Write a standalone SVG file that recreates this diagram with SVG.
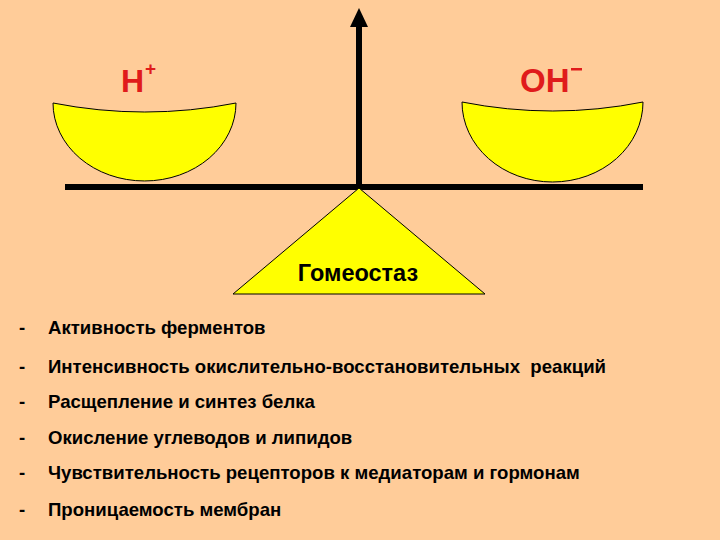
<svg xmlns="http://www.w3.org/2000/svg" width="720" height="540" viewBox="0 0 720 540">
<style>
.bowl{fill:#FFFF00;stroke:#000;stroke-width:1}
.ion{font-family:"Liberation Sans",Arial,sans-serif;font-weight:bold;fill:#E01B1B}
.lbl{font-family:"Liberation Sans",Arial,sans-serif;font-weight:bold;fill:#000}
.item{font-family:"Liberation Sans",Arial,sans-serif;font-weight:bold;font-size:18.6px;fill:#000}
</style>
<rect x="0" y="0" width="720" height="540" fill="#FFCC99"/>
<g id="connectors">
<rect x="356" y="25" width="6" height="162" fill="#000"/>
<polygon points="359,8 350,27 368,27" fill="#000"/>
<rect x="65" y="184" width="578" height="6" fill="#000"/>
</g>
<g id="bowl-left">
<path class="bowl" d="M53,103 Q145,121 236,103 A91.5 78 0 0 1 53,103 Z"/>
</g>
<g id="bowl-right">
<path class="bowl" d="M462,102 Q553,120 643,102 A90.5 80 0 0 1 462,102 Z"/>
</g>
<g id="h-ion">
<text class="ion" x="121" y="92" font-size="32">H</text>
<text class="ion" x="145" y="75" font-size="19">+</text>
</g>
<g id="oh-ion">
<text class="ion" x="520" y="92" font-size="33">OH</text>
<rect x="571" y="68" width="11" height="2.5" fill="#E01B1B"/>
</g>
<g id="homeostasis">
<polygon points="359,188 233,294 485,294" fill="#FFFF00" stroke="#000" stroke-width="1"/>
<text class="lbl" x="358" y="281" font-size="23.5" text-anchor="middle">Гомеостаз</text>
</g>
<g id="list">
<text class="item" x="19" y="334">-</text><text class="item" x="48" y="334">Активность ферментов</text>
<text class="item" x="19" y="373">-</text><text class="item" x="48" y="373" xml:space="preserve">Интенсивность окислительно-восстановительных  реакций</text>
<text class="item" x="19" y="408">-</text><text class="item" x="48" y="408">Расщепление и синтез белка</text>
<text class="item" x="19" y="444">-</text><text class="item" x="48" y="444">Окисление углеводов и липидов</text>
<text class="item" x="19" y="479">-</text><text class="item" x="48" y="479">Чувствительность рецепторов к медиаторам и гормонам</text>
<text class="item" x="19" y="516">-</text><text class="item" x="48" y="516">Проницаемость мембран</text>
</g>
</svg>
